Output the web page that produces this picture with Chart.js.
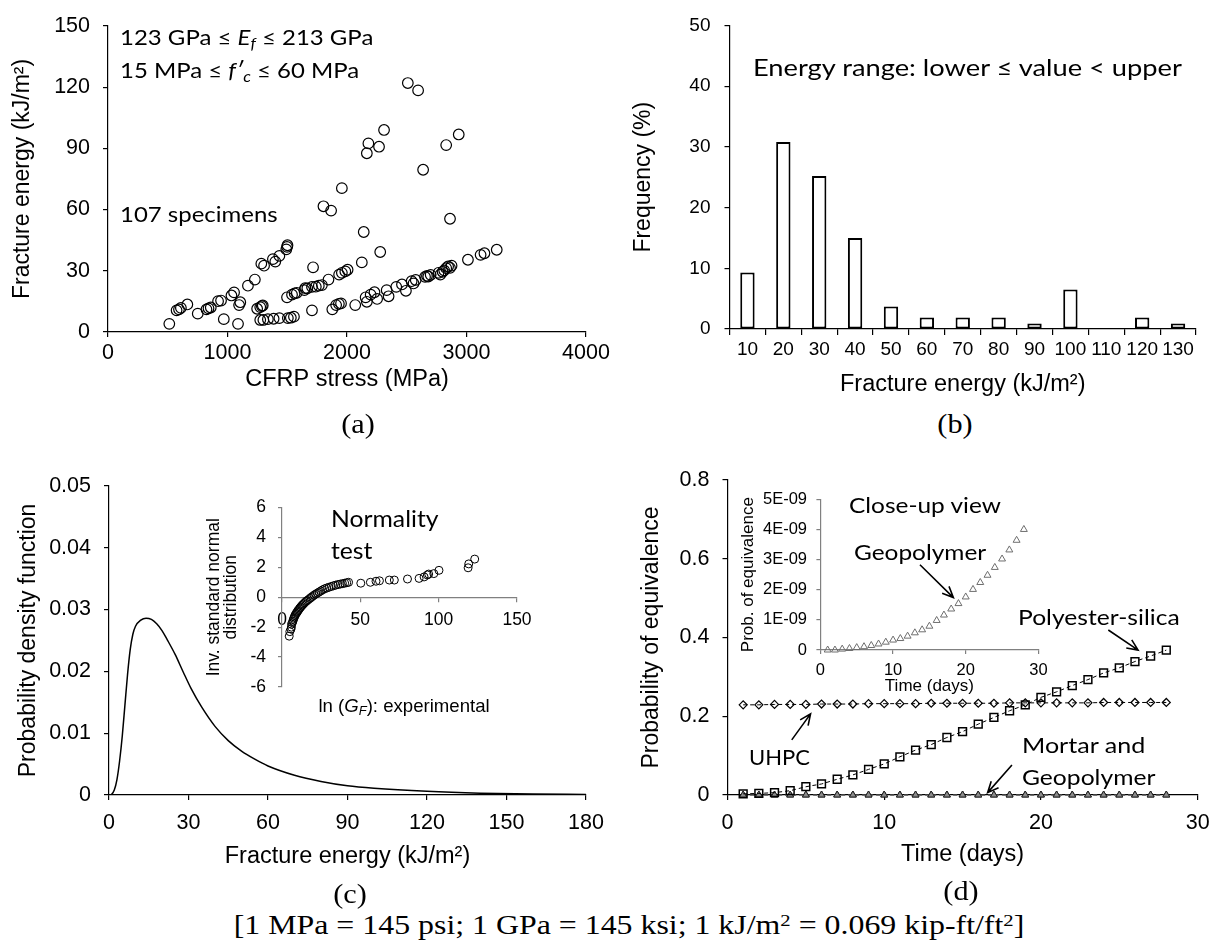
<!DOCTYPE html>
<html>
<head>
<meta charset="utf-8">
<script src="https://cdn.jsdelivr.net/npm/chart.js@4.4.0/dist/chart.umd.min.js"></script>
<style>
  body { margin: 0; background: #fff; width: 1225px; height: 951px; position: relative; overflow: hidden; }
  .box { position: absolute; }
  .note { position: absolute; font-family: Lato, "Open Sans", sans-serif; color: #000; white-space: nowrap; line-height: 1;
          transform-origin: left center; transform: translateY(-50%) scaleX(var(--sx, 1)); }
  .note sub { font-size: 70%; vertical-align: -0.25em; }
  .sans { font-family: "Liberation Sans", Arial, sans-serif; }
  .cap { position: absolute; font-family: "Liberation Serif", "Times New Roman", serif; color: #000; white-space: nowrap; line-height: 1;
         transform: translate(-50%, -50%) scaleX(var(--sx, 1)); }
  .cap sup { font-size: 65%; vertical-align: 0.45em; line-height: 0; }
</style>
</head>
<body>
<div class="box" style="left:0;top:0;width:620px;height:400px"><canvas id="chartA"></canvas></div>
<div class="box" style="left:620px;top:0;width:600px;height:400px"><canvas id="chartB"></canvas></div>
<div class="box" style="left:0;top:460px;width:620px;height:420px"><canvas id="chartC"></canvas></div>
<div class="box" style="left:190px;top:485px;width:350px;height:240px"><canvas id="chartCin"></canvas></div>
<div class="box" style="left:620px;top:440px;width:600px;height:440px"><canvas id="chartD"></canvas></div>
<div class="box" style="left:730px;top:480px;width:330px;height:220px"><canvas id="chartDin"></canvas></div>

<div class="note" style="left:120px;top:39px;font-size:22px;--sx:1.09">123 GPa ≤ <i>E<sub>f</sub></i> ≤ 213 GPa</div>
<div class="note" style="left:120px;top:72px;font-size:22px;--sx:1.09">15 MPa ≤ <i>f′<sub>c</sub></i> ≤ 60 MPa</div>
<div class="note" style="left:120px;top:214px;font-size:22px;--sx:1.09">107 specimens</div>
<div class="note" style="left:753px;top:67px;font-size:23px;--sx:1.186">Energy range: lower ≤ value &lt; upper</div>
<div class="note" style="left:331px;top:518px;font-size:23px;--sx:1.075">Normality</div>
<div class="note" style="left:331px;top:550px;font-size:23px;--sx:1.075">test</div>
<div class="note sans" style="left:404px;top:707px;font-size:18.6px;transform:translate(-50%,-50%)">ln (<i>G<sub>F</sub></i>): experimental</div>
<div class="note" style="left:849px;top:505px;font-size:22px;--sx:1.11">Close-up view</div>
<div class="note" style="left:854px;top:552px;font-size:22px;--sx:1.11">Geopolymer</div>
<div class="note" style="left:1018px;top:617px;font-size:22px;--sx:1.12">Polyester-silica</div>
<div class="note" style="left:749px;top:757px;font-size:22px">UHPC</div>
<div class="note" style="left:1022px;top:745px;font-size:22px;--sx:1.14">Mortar and</div>
<div class="note" style="left:1022px;top:777px;font-size:22px;--sx:1.12">Geopolymer</div>

<div class="cap" style="left:358px;top:424px;font-size:27px;--sx:1.12">(a)</div>
<div class="cap" style="left:955px;top:424px;font-size:27px;--sx:1.12">(b)</div>
<div class="cap" style="left:350px;top:894px;font-size:27px;--sx:1.12">(c)</div>
<div class="cap" style="left:961px;top:891px;font-size:27px;--sx:1.12">(d)</div>
<div class="cap" style="left:629px;top:925px;font-size:27px;--sx:1.18">[1 MPa = 145 psi; 1 GPa = 145 ksi; 1 kJ/m<sup>2</sup> = 0.069 kip-ft/ft<sup>2</sup>]</div>

<script>
// (a) CFRP stress (MPa) vs fracture energy (kJ/m2), one pair per specimen
const specimens = [
  [513,4.0],[574,10.6],[594,11.1],[610,11.8],[664,13.5],[751,9.0],[824,11.1],[841,11.6],[860,12.0],
  [921,15.1],[946,15.4],[969,6.3],[1033,17.9],[1055,19.4],[1088,4.0],[1097,13.2],[1107,14.6],
  [1171,22.7],[1229,25.7],[1248,11.4],[1274,12.2],[1287,12.7],[1295,13.0],
  [1274,5.9],[1300,5.9],[1338,6.3],[1386,6.5],[1434,6.8],[1505,6.8],[1530,7.0],[1556,7.5],
  [1283,33.5],[1306,32.5],[1380,35.7],[1434,37.3],[1400,34.5],[1492,40.5],[1498,41.7],[1502,42.5],
  [1498,17.0],[1540,18.3],[1562,18.9],[1580,19.2],[1643,20.5],[1650,21.5],[1668,21.4],[1707,22.1],
  [1739,22.2],[1764,22.7],[1790,23.0],[1845,25.7],[1716,31.7],[1707,10.6],[1934,28.1],[1957,29.0],
  [1986,29.7],[2005,30.5],[1877,11.1],[1909,13.2],[1932,13.8],[1950,14.0],[2069,13.2],[2124,34.1],
  [2140,49.0],[2278,39.2],
  [2156,17.0],[2166,14.8],[2198,18.3],[2230,19.5],[2252,16.2],[2332,20.5],[2348,17.5],[2412,22.1],
  [2460,23.3],[2493,20.2],[2541,24.9],[2557,23.8],[2575,25.5],[2653,27.0],[2669,27.5],[2680,27.2],
  [2700,28.0],[2766,29.0],[2781,28.1],[2800,29.5],[2813,30.2],[2830,31.3],[2846,32.1],[2862,31.4],
  [2875,32.5],[3012,35.4],[3118,37.8],[3150,38.6],[3253,40.3],
  [1803,61.6],[1867,59.5],[1957,70.5],[2166,87.6],[2179,92.4],[2268,90.8],[2310,99.0],[2509,122.0],
  [2595,118.4],[2637,79.5],[2830,91.6],[2935,96.8],[2862,55.5]
];

// (b) histogram of fracture energy
const binLabels = ['10','20','30','40','50','60','70','80','90','100','110','120','130'];
const binFrequency = [9.3, 30.8, 25.2, 15.0, 3.7, 1.9, 1.9, 1.9, 0.9, 6.5, 0, 1.9, 0.9];

// (c) probability density function
const pdfEnergy  = [0.5, 1, 2, 3, 4, 5, 6, 7, 8, 9, 10, 12, 14, 16, 18, 20, 22, 25, 28, 31, 35, 40, 45, 50, 55, 60, 70, 80, 90, 100, 120, 140, 160, 180];
const pdfDensity = [0, 0.0001, 0.0008, 0.0025, 0.0055, 0.0095, 0.0145, 0.0195, 0.0235, 0.026, 0.0273, 0.0283, 0.0286, 0.0284, 0.0277, 0.0266, 0.0251, 0.0227, 0.0199, 0.0172, 0.0142, 0.0111, 0.0088, 0.0071, 0.0058, 0.0047, 0.0032, 0.0022, 0.0015, 0.0011, 0.0006, 0.0003, 0.00015, 0.0001];

// (c) inset: normality test points [fracture energy, inverse std normal]
const normalityPoints = [
  [4.6,-2.6],[5.0,-2.3],[5.7,-2.13],[6.0,-2.0],[6.1,-1.8],[6.6,-1.7],[7.0,-1.6],[7.2,-1.48],[7.6,-1.4],
  [8.0,-1.3],[8.2,-1.22],[8.7,-1.15],[9.2,-1.07],[9.6,-1.0],[9.9,-0.94],[10.4,-0.88],[10.9,-0.8],
  [11.4,-0.72],[11.9,-0.66],[12.5,-0.58],[13.1,-0.51],[13.7,-0.45],[14.4,-0.37],[15.2,-0.29],
  [15.9,-0.23],[16.8,-0.16],[17.8,-0.08],[18.6,-0.01],[19.5,0.06],[20.5,0.14],[21.5,0.21],
  [22.6,0.28],[23.7,0.35],[24.8,0.42],[26.0,0.5],[27.3,0.57],[28.6,0.62],[30.0,0.67],[31.5,0.72],
  [32.9,0.77],[34.3,0.81],[35.7,0.85],[37.2,0.88],[38.6,0.91],[40.0,0.94],[41.3,0.97],[42.5,1.0],
  [50.3,0.94],[56.4,1.0],[60.0,1.07],[62.2,1.1],[68.5,1.15],[71.7,1.15],[80.1,1.22],[87.5,1.26],
  [90.7,1.36],[92.8,1.49],[93.6,1.55],[96.9,1.58],[100.2,1.8],[118.8,1.97],[119.2,2.23],[123.0,2.55]
];

// (d) probability of equivalence over time
const days = [1,2,3,4,5,6,7,8,9,10,11,12,13,14,15,16,17,18,19,20,21,22,23,24,25,26,27,28];
const uhpc = [0.229,0.229,0.230,0.230,0.230,0.231,0.231,0.231,0.232,0.232,0.232,0.232,0.233,0.233,
              0.233,0.233,0.233,0.234,0.234,0.234,0.234,0.234,0.234,0.235,0.235,0.235,0.235,0.235];
const polyesterSilica = [0.003,0.004,0.006,0.011,0.021,0.028,0.040,0.051,0.065,0.079,0.097,0.114,0.128,0.146,
                         0.161,0.180,0.197,0.214,0.229,0.248,0.262,0.278,0.293,0.310,0.323,0.339,0.353,0.368];
const mortar = [0,0,0,0,0,0,0,0,0,0,0,0,0,0,0,0,0,0,0,0,0,0,0,0,0,0,0,0];
const geopolymer = [0,0,0.03e-9,0.05e-9,0.08e-9,0.11e-9,0.15e-9,0.2e-9,0.26e-9,0.33e-9,0.38e-9,0.46e-9,0.57e-9,0.67e-9,
                    0.79e-9,0.98e-9,1.16e-9,1.36e-9,1.54e-9,1.76e-9,2.01e-9,2.24e-9,2.48e-9,2.74e-9,3.02e-9,3.32e-9,3.64e-9,4.0e-9];

const SANS = '"Liberation Sans", Arial, sans-serif';
Chart.defaults.font.family = SANS;
Chart.defaults.color = '#000';

const pairs = (xs, ys) => xs.map((x, i) => ({x, y: ys[i]}));

function axis(o) {
  const col = o.color || '#000';
  const a = {
    type: o.type || 'linear',
    position: o.position,
    offset: !!o.offset,
    border: {display: true, color: col, width: o.bw || 1.2},
    grid: {display: true, drawOnChartArea: false, drawTicks: true, tickLength: o.tl || 5,
           color: col, lineWidth: o.bw || 1.2, offset: !!o.offset},
    ticks: {autoSkip: false, maxRotation: 0, padding: o.pad, color: '#000',
            font: {size: o.size, family: SANS}},
    title: o.title ? {display: true, text: o.title, color: '#000',
                      font: {size: o.tsize, family: SANS, lineHeight: o.tlh || 1.2},
                      padding: {top: o.tpad, bottom: o.tpad}} : {display: false},
    afterFit: s => {
      if (!o.fit) return;
      if (s.isHorizontal()) s.height = o.fit; else s.width = o.fit;
    }
  };
  if (o.type !== 'category') {
    a.min = o.min; a.max = o.max;
    a.ticks.stepSize = o.step;
    a.ticks.callback = o.fmt || (v => String(v));
  }
  return a;
}

// arrows are placed in data coordinates of the chart they sit on
const arrowPlugin = {
  id: 'arrows',
  afterDatasetsDraw(chart, args, opts) {
    const {ctx, scales: {x, y}} = chart;
    (opts.list || []).forEach(a => {
      const x1 = x.getPixelForValue(a.from[0]), y1 = y.getPixelForValue(a.from[1]);
      const x2 = x.getPixelForValue(a.to[0]), y2 = y.getPixelForValue(a.to[1]);
      const ang = Math.atan2(y2 - y1, x2 - x1), len = 12;
      ctx.save();
      ctx.strokeStyle = '#000';
      ctx.lineWidth = 1.6;
      ctx.beginPath();
      ctx.moveTo(x1, y1);
      ctx.lineTo(x2, y2);
      ctx.moveTo(x2 - len * Math.cos(ang - 0.42), y2 - len * Math.sin(ang - 0.42));
      ctx.lineTo(x2, y2);
      ctx.lineTo(x2 - len * Math.cos(ang + 0.42), y2 - len * Math.sin(ang + 0.42));
      ctx.stroke();
      ctx.restore();
    });
  }
};

const base = (pad) => ({
  responsive: true,
  maintainAspectRatio: false,
  animation: false,
  layout: {padding: pad},
  plugins: {legend: {display: false}, tooltip: {enabled: false}}
});

// (a)
new Chart(document.getElementById('chartA'), {
  type: 'scatter',
  data: {datasets: [{
    data: specimens.map(p => ({x: p[0], y: p[1]})),
    pointStyle: 'circle', pointRadius: 5.3, borderWidth: 1.2,
    borderColor: '#000', backgroundColor: 'rgba(0,0,0,0)', clip: false
  }]},
  options: Object.assign(base({top: 17, right: 34, left: 0, bottom: 0}), {
    scales: {
      x: axis({min: 0, max: 4000, step: 1000, size: 21.5, pad: 3, fit: 68,
               title: 'CFRP stress (MPa)', tsize: 23.5, tpad: 5.9}),
      y: axis({min: 0, max: 150, step: 30, size: 21.5, pad: 13, fit: 108,
               title: 'Fracture energy (kJ/m²)', tsize: 23, tpad: 9.2})
    }
  })
});

// (b)
new Chart(document.getElementById('chartB'), {
  type: 'bar',
  data: {labels: binLabels, datasets: [{
    data: binFrequency, backgroundColor: '#fff', borderColor: '#000', borderWidth: 2,
    borderSkipped: false, barPercentage: 0.4, categoryPercentage: 1
  }]},
  options: Object.assign(base({top: 22, right: 24, left: 0, bottom: 0}), {
    scales: {
      x: axis({type: 'category', offset: true, size: 19, pad: 3.6, tl: 6, fit: 71,
               title: 'Fracture energy (kJ/m²)', tsize: 23.5, tpad: 1}),
      y: axis({min: 0, max: 50, step: 10, size: 19, pad: 14, fit: 109.5,
               title: 'Frequency (%)', tsize: 23, tpad: 10.2})
    }
  })
});

// (c)
new Chart(document.getElementById('chartC'), {
  type: 'line',
  data: {datasets: [{
    data: pairs(pdfEnergy, pdfDensity), borderColor: '#000', borderWidth: 1.5,
    pointRadius: 0, fill: false, cubicInterpolationMode: 'monotone'
  }]},
  options: Object.assign(base({top: 20, right: 34, left: 0, bottom: 0}), {
    scales: {
      x: axis({min: 0, max: 180, step: 30, size: 21.5, pad: 9.8, fit: 85,
               title: 'Fracture energy (kJ/m²)', tsize: 23.5, tpad: 9.2}),
      y: axis({min: 0, max: 0.05, step: 0.01, size: 21.5, pad: 13, fit: 109,
               title: 'Probability density function', tsize: 23, tpad: 14.9})
    }
  })
});

// (c) inset
new Chart(document.getElementById('chartCin'), {
  type: 'scatter',
  data: {datasets: [{
    data: normalityPoints.map(p => ({x: p[0], y: p[1]})),
    pointStyle: 'circle', pointRadius: 4, borderWidth: 1,
    borderColor: '#000', backgroundColor: 'rgba(0,0,0,0)', clip: false
  }]},
  options: Object.assign(base({top: 16, right: 21.5, left: 0, bottom: 38}), {
    scales: {
      x: axis({min: 0, max: 150, step: 50, size: 17.5, pad: 8.4, tl: 4, bw: 1.2,
               color: '#808080', position: {y: 0}}),
      y: axis({min: -6, max: 6, step: 2, size: 17.5, pad: 12, tl: 4, bw: 1.2, fit: 92,
               color: '#808080', title: ['Inv. standard normal', 'distribution'],
               tsize: 17.5, tlh: 0.98, tpad: 15.7})
    }
  })
});

// (d)
new Chart(document.getElementById('chartD'), {
  type: 'line',
  data: {datasets: [
    {data: pairs(days, uhpc), borderColor: '#000', borderWidth: 1, borderDash: [4, 3],
     pointStyle: 'rectRot', pointRadius: 4, pointBorderWidth: 1.2,
     pointBackgroundColor: 'rgba(0,0,0,0)', pointBorderColor: '#000', clip: false},
    {data: pairs(days, polyesterSilica), borderColor: '#000', borderWidth: 1, borderDash: [4, 3],
     pointStyle: 'rect', pointRadius: 5.5, pointBorderWidth: 1.5,
     pointBackgroundColor: 'rgba(0,0,0,0)', pointBorderColor: '#000', clip: false},
    {data: pairs(days, mortar), borderColor: '#555', borderWidth: 1, borderDash: [4, 3],
     pointStyle: 'triangle', pointRadius: 4, pointBorderWidth: 1,
     pointBackgroundColor: '#8c8c8c', pointBorderColor: '#222', clip: false},
    {data: pairs(days, geopolymer), borderColor: '#555', borderWidth: 1, borderDash: [4, 3],
     pointStyle: 'triangle', pointRadius: 4, pointBorderWidth: 1,
     pointBackgroundColor: '#8c8c8c', pointBorderColor: '#222', clip: false}
  ]},
  options: Object.assign(base({top: 40, right: 15, left: 0, bottom: 0}), {
    scales: {
      x: axis({min: 0, max: 30, step: 10, size: 21.5, pad: 10.4, fit: 85,
               title: 'Time (days)', tsize: 23.5, tpad: 10.9}),
      y: axis({min: 0, max: 0.8, step: 0.2, size: 21.5, pad: 13, fit: 107.5,
               title: 'Probability of equivalence', tsize: 23, tpad: 18})
    },
    plugins: {legend: {display: false}, tooltip: {enabled: false},
      arrows: {list: [
        {from: [24.3, 0.419], to: [26.2, 0.368]},
        {from: [4.1, 0.14], to: [5.3, 0.206]},
        {from: [18.15, 0.076], to: [16.6, 0.006]}
      ]}}
  }),
  plugins: [arrowPlugin]
});

// (d) inset close-up
new Chart(document.getElementById('chartDin'), {
  type: 'line',
  data: {datasets: [{
    data: pairs(days, geopolymer), showLine: false,
    pointStyle: 'triangle', pointRadius: 4, pointBorderWidth: 1,
    pointBackgroundColor: 'rgba(0,0,0,0)', pointBorderColor: '#6e6e6e', clip: false
  }]},
  options: Object.assign(base({top: 16.7, right: 21.6, left: 0, bottom: 0}), {
    scales: {
      x: axis({min: 0, max: 30, step: 10, size: 16.5, pad: 6.1, tl: 4, bw: 1.2, fit: 50,
               color: '#808080', title: 'Time (days)', tsize: 17, tpad: 3.1}),
      y: axis({min: 0, max: 5e-9, step: 1e-9, size: 16.5, pad: 9.4, tl: 4, bw: 1.2, fit: 90.4,
               color: '#808080', fmt: v => v === 0 ? '0' : Math.round(v * 1e9) + 'E-09',
               title: 'Prob. of equivalence', tsize: 17, tpad: 7.8})
    },
    plugins: {legend: {display: false}, tooltip: {enabled: false},
      arrows: {list: [{from: [13.7, 2.83e-9], to: [18.3, 1.74e-9]}]}}
  }),
  plugins: [arrowPlugin]
});
</script>
</body>
</html>
